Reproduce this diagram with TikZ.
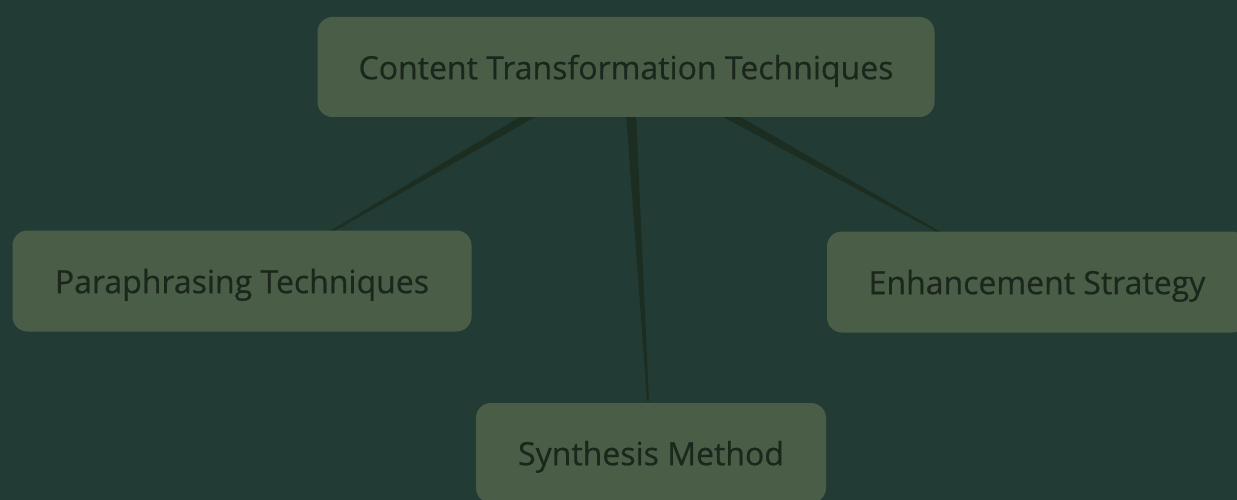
\documentclass[tikz,border=0pt]{standalone}
\usepackage{fontspec}
\setmainfont{Open Sans}
\newfontfamily\boxfont{Open Sans}[FakeBold=0.6]
\usetikzlibrary{calc}
\definecolor{bgc}{HTML}{233B35}
\definecolor{boxc}{HTML}{4A5E47}
\definecolor{txtc}{HTML}{1B261C}
\definecolor{linec}{HTML}{1C2E22}
\pgfdeclarelayer{bglayer}
\pgfdeclarelayer{connlayer}
\pgfsetlayers{bglayer,connlayer,main}
\tikzset{
  mmbox/.style={rectangle, rounded corners=15pt, fill=boxc, text=txtc,
    font=\boxfont\fontsize{32}{36}\selectfont, inner sep=0pt, align=center,
    text depth=0pt},
  conn/.style={fill=linec}
}
\begin{document}
\begin{tikzpicture}[x=1pt,y=-1pt]
\begin{pgfonlayer}{bglayer}
\fill[bgc] (0,0) rectangle (1237,500);
\end{pgfonlayer}
\useasboundingbox (0,0) rectangle (1237,500);
\node[mmbox, minimum width=617pt, minimum height=100pt] (top) at (626,67) {Content Transformation Techniques};
\node[mmbox, minimum width=459pt, minimum height=101pt] (para) at (242,281) {Paraphrasing Techniques};
\node[mmbox, minimum width=420pt, minimum height=101pt] (enh) at (1037,282) {Enhancement Strategy};
\node[mmbox, minimum width=350pt, minimum height=100pt] (syn) at (651,453) {Synthesis Method};
\begin{pgfonlayer}{connlayer}
\fill[conn] ($(top.south)+(-100,-4)$) -- ($(top.south)+(-84,-4)$) -- ($(para.north)+(90,2)$) -- ($(para.north)+(86,2)$) -- cycle;
\fill[conn] ($(top.south)+(0,-4)$) -- ($(top.south)+(10,-4)$) -- ($(syn.north)+(-2,-2)$) -- ($(syn.north)+(-4,-2)$) -- cycle;
\fill[conn] ($(top.south)+(90,-4)$) -- ($(top.south)+(108,-4)$) -- ($(enh.north)+(-94,2)$) -- ($(enh.north)+(-98,2)$) -- cycle;
\end{pgfonlayer}
\end{tikzpicture}
\end{document}
